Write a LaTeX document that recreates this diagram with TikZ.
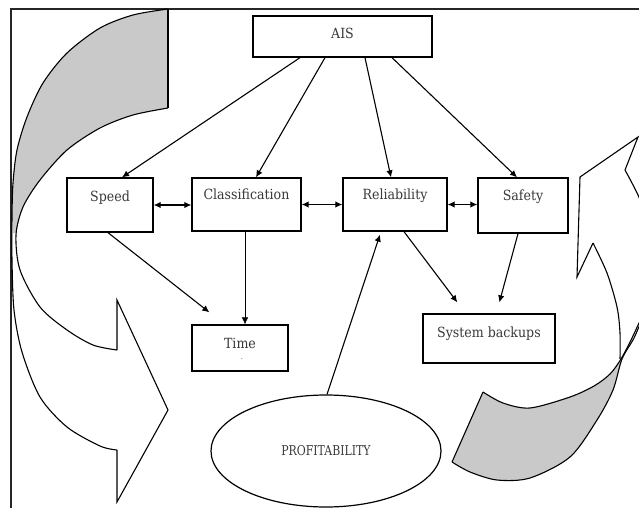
\documentclass[tikz,border=0pt]{standalone}
\usepackage{fontspec}
\setmainfont{DejaVu Serif Condensed}
\usetikzlibrary{arrows.meta,shapes.geometric,calc}
\begin{document}
\begin{tikzpicture}[x=1pt,y=-1pt,
  boxnode/.style={draw, line width=1.3pt, inner sep=0pt, text height=23pt,
    font=\fontsize{14}{16}\selectfont, text=black!78},
  arr/.style={line width=1.1pt, -{Latex[length=7pt,width=6.5pt]}},
  darr/.style={line width=1.1pt, {Latex[length=7pt,width=6.5pt]}-{Latex[length=7pt,width=6.5pt]}},
  thinarr/.style={line width=0.6pt, -{Latex[length=7pt,width=6.5pt]}},
  bigarrow/.style={line width=1.1pt, line join=miter},
  tailfill/.style={fill=black!21},
  framestyle/.style={line width=1.6pt, black!85}]
\useasboundingbox (0,0) rectangle (639,508);
\clip (0,0) rectangle (639,508);

% frame
\draw[framestyle] (639,9) -- (11,9) -- (11,508);

% left curved arrow
\fill[tailfill] plot[smooth] coordinates {(168,9) (133,15) (100,28) (67,53) (43,83) (27,117) (17,150) (13,183) (12,215) (13,233)}
  -- plot[smooth] coordinates {(16,233) (23,207) (40,180) (67,150) (100,128) (133,115) (168,108)} -- cycle;
\draw[bigarrow] plot[smooth] coordinates {(168,9) (133,15) (100,28) (67,53) (43,83) (27,117) (17,150) (13,183) (12,217) (12,260) (14,310) (22,352) (40,397) (67,427) (100,446) (117,450)};
\draw[bigarrow] plot[smooth] coordinates {(168,108) (133,115) (100,128) (67,150) (40,180) (23,207) (16,235) (20,270) (40,307) (67,330) (93,345) (117,350)};
\draw[bigarrow] (117,350) -- (117,300) -- (168,410) -- (117,502) -- (117,450);
\draw[bigarrow] (168,9) -- (168,108);

% right curved arrow
\fill[tailfill] plot[smooth] coordinates {(483,392) (503,403) (530,408) (570,397) (594,386) (610,374) (621,359)}
  -- plot[smooth] coordinates {(622,359) (613,390) (597,420) (570,457) (530,478) (497,480) (470,472) (452,462)} -- cycle;
\draw[bigarrow] plot[smooth] coordinates {(483,392) (503,403) (530,408) (570,397) (594,386) (610,374) (621,359) (632,338) (645,310)};
\draw[bigarrow] plot[smooth] coordinates {(645,312) (634,338) (622,359) (613,390) (597,420) (570,457) (530,478) (497,480) (470,472) (452,462)};
\draw[bigarrow] (452,462) -- (483,392);
\draw[bigarrow] plot[smooth] coordinates {(593,243) (607,273) (617,307) (620,333) (620,359)};
\draw[bigarrow] (593,243) -- (577,277) -- (580,177) -- (638,137) -- (625,170);
\draw[bigarrow] plot[smooth] coordinates {(625,170) (638,195) (650,225)};

% boxes
\node[boxnode, minimum width=179pt, text depth=18pt] (ais) at (342.5,36.5) {AIS};
\node[boxnode, minimum width=86pt, text depth=31pt] (speed) at (110,205) {Speed};
\node[boxnode, minimum width=109pt, text depth=32pt, text height=21pt] (class) at (246.5,204.5) {Classification};
\node[boxnode, minimum width=104pt, text depth=32pt, text height=21pt] (rel) at (395,204.5) {Reliability};
\node[boxnode, minimum width=90pt, text depth=33pt, text height=22pt] (safety) at (523,205.5) {Safety};
\node[boxnode, minimum width=96pt, text depth=23pt] (time) at (240,348) {Time};
\node[font=\fontsize{8}{8}\selectfont, text=black!70, inner sep=0pt] (timedot) at (242,359) {.};
\node[boxnode, minimum width=132pt, text depth=26pt] (sys) at (489,338.5) {System backups};
\node[draw, ellipse, line width=1.2pt, minimum width=230pt, minimum height=112pt, inner sep=0pt,
  font=\fontsize{13.5}{15}\selectfont, text=black!78] (profit) at (326,451) {\scalebox{0.9}[1]{PROFITABILITY}};

% connectors
\draw[arr] ($(ais.south)+(-42.5,0)$) -- ($(speed.north)+(12,0)$);
\draw[arr] ($(ais.south)+(-17.5,0)$) -- ($(class.north)+(9.5,0)$);
\draw[arr] ($(ais.south)+(22.5,0)$) -- ($(rel.north)+(-4,0)$);
\draw[arr] ($(ais.south)+(49.5,0)$) -- ($(safety.north)+(-6,0)$);
\draw[darr] (speed.east) -- (speed.east -| class.west);
\draw[darr] (class.east) -- (rel.west);
\draw[darr] (rel.east) -- (rel.east -| safety.west);
\draw[arr] ($(speed.south)+(-2,0)$) -- ($(time.north west)+(18,-12)$);
\draw[thinarr] ($(class.south)+(-1.5,0)$) -- ($(time.north)+(5,0)$);
\draw[arr] ($(rel.south)+(9,0)$) -- ($(sys.north west)+(35,-11)$);
\draw[arr] ($(safety.south)+(-5,0)$) -- ($(sys.north west)+(77,-11)$);
\draw[arr] ($(profit.north)+(1,0)$) -- ($(rel.south)+(-15,3)$);
\end{tikzpicture}
\end{document}
